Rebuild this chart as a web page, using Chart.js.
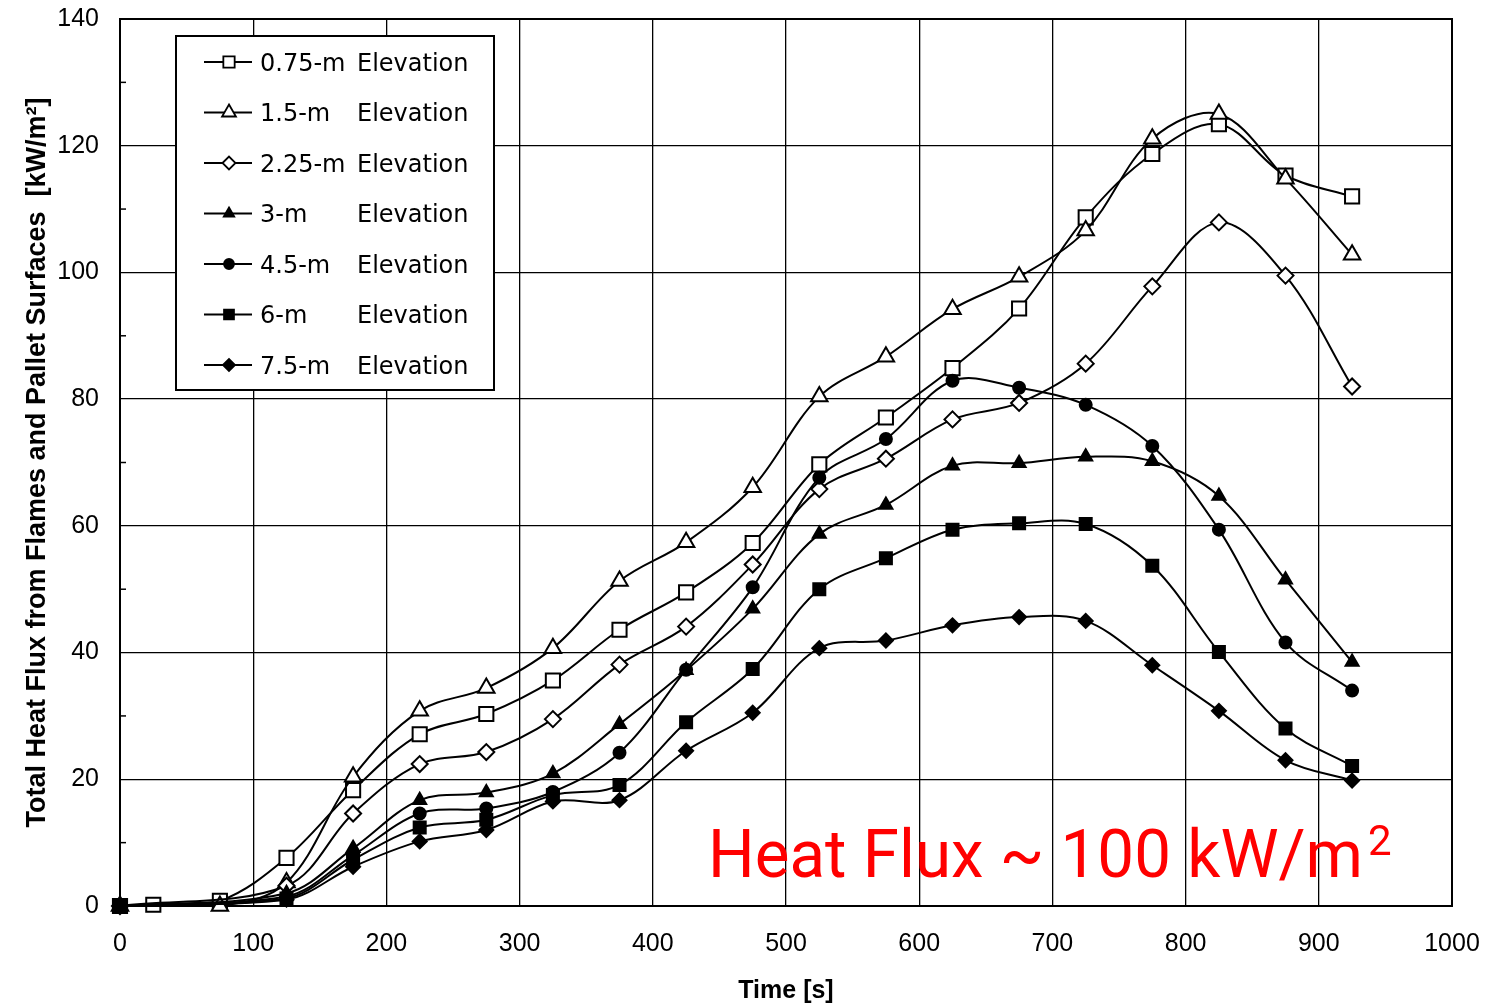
<!DOCTYPE html>
<html>
<head>
<meta charset="utf-8">
<script src="https://cdn.jsdelivr.net/npm/chart.js@4.4.0/dist/chart.umd.min.js"></script>
<style>
html,body{margin:0;padding:0;background:#fff;}
#wrap{width:1506px;height:1008px;position:relative;}
</style>
</head>
<body>
<div id="wrap"><canvas id="c"></canvas></div>
<script>
// ---- data ----
const times = [0, 25, 75, 125, 175, 225, 275, 325, 375, 425, 475, 525, 575, 625, 675, 725, 775, 825, 875, 925];
const elevations = ["0.75-m", "1.5-m", "2.25-m", "3-m", "4.5-m", "6-m", "7.5-m"];
const s075 = [0, 0.2, 0.8, 7.6, 18.3, 27.1, 30.3, 35.6, 43.6, 49.5, 57.3, 69.7, 77.1, 84.9, 94.3, 108.7, 118.7, 123.4, 115.3, 112.0];
const s15  = [0, null, 0, 3.7, 20.4, 30.8, 34.4, 40.7, 51.3, 57.4, 66.1, 80.4, 86.7, 94.2, 99.3, 106.6, 121.1, 125.0, 114.8, 102.8];
const s225 = [0, null, null, 3.2, 14.6, 22.4, 24.3, 29.5, 38.1, 44.1, 53.9, 65.8, 70.6, 76.8, 79.4, 85.6, 97.8, 107.9, 99.5, 82.0];
const s3   = [0, null, null, 2.0, 9.1, 16.7, 17.9, 20.9, 28.7, 37.2, 46.9, 58.7, 63.3, 69.5, 69.9, 70.9, 70.2, 64.7, 51.5, 38.5];
const s45  = [0, null, null, 1.5, 8.0, 14.6, 15.4, 18.0, 24.2, 37.3, 50.3, 67.6, 73.7, 82.9, 81.8, 79.1, 72.6, 59.4, 41.6, 34.0];
const s6   = [0, null, null, 1.2, 7.3, 12.4, 13.6, 17.5, 19.1, 29.0, 37.4, 50.0, 54.9, 59.4, 60.4, 60.3, 53.7, 40.1, 28.0, 22.1];
const s75  = [0, null, null, 1.0, 6.2, 10.2, 12.0, 16.5, 16.7, 24.5, 30.5, 40.7, 41.9, 44.3, 45.6, 45.0, 38.0, 30.8, 23.0, 19.8];
const seriesValues = [s075, s15, s225, s3, s45, s6, s75];
const xTickLabels = ["0", "100", "200", "300", "400", "500", "600", "700", "800", "900", "1000"];
const yTickLabels = ["0", "20", "40", "60", "80", "100", "120", "140"];
const xTitle = "Time [s]";
const yTitle = "Total Heat Flux from Flames and Pallet Surfaces  [kW/m\u00B2]";
const noteText = "Heat Flux ~ 100 kW/m";
const noteSup = "2";

// ---- styles ----
const pointStyles = ['rect', 'triangle', 'rectRot', 'triangle', 'circle', 'rect', 'rectRot'];
const pointFills  = ['#ffffff', '#ffffff', '#ffffff', '#000000', '#000000', '#000000', '#000000'];
const pointRadii  = [10, 9.5, 8, 7.5, 6, 8.5, 7];
const legendRadii = [8, 8, 6.5, 6, 5, 7, 6];

const datasets = seriesValues.map((vals, i) => ({
  label: elevations[i] + " Elevation",
  data: times.map((t, k) => ({x: t, y: vals[k]})),
  borderColor: '#000',
  borderWidth: 2,
  backgroundColor: pointFills[i],
  pointStyle: pointStyles[i],
  pointRadius: pointRadii[i],
  pointBackgroundColor: pointFills[i],
  pointBorderColor: '#000',
  pointBorderWidth: 2,
  tension: 0.35,
  spanGaps: true,
  fill: false,
  clip: false,
  order: seriesValues.length - 1 - i
}));

function drawMarker(ctx, style, r, x, y, fillColor) {
  ctx.beginPath();
  if (style === 'rect') {
    const s = Math.SQRT1_2 * r;
    ctx.rect(x - s, y - s, 2 * s, 2 * s);
  } else if (style === 'rectRot') {
    ctx.moveTo(x - r, y); ctx.lineTo(x, y - r); ctx.lineTo(x + r, y); ctx.lineTo(x, y + r); ctx.closePath();
  } else if (style === 'triangle') {
    let a = 0;
    ctx.moveTo(x + Math.sin(a) * r, y - Math.cos(a) * r);
    a += 2 * Math.PI / 3;
    ctx.lineTo(x + Math.sin(a) * r, y - Math.cos(a) * r);
    a += 2 * Math.PI / 3;
    ctx.lineTo(x + Math.sin(a) * r, y - Math.cos(a) * r);
    ctx.closePath();
  } else {
    ctx.arc(x, y, r, 0, Math.PI * 2);
  }
  ctx.fillStyle = fillColor;
  ctx.fill();
  ctx.strokeStyle = '#000';
  ctx.lineWidth = 1.8;
  ctx.stroke();
}

const decor = {
  id: 'decor',
  beforeDatasetsDraw(chart) {
    const {ctx, chartArea: a} = chart;
    ctx.save();
    ctx.strokeStyle = '#000';
    ctx.lineWidth = 2;
    ctx.strokeRect(a.left, a.top, a.right - a.left, a.bottom - a.top);
    const ys = chart.scales.y;
    ctx.lineWidth = 1.5;
    for (let v = 10; v < 140; v += 20) {
      const py = ys.getPixelForValue(v);
      ctx.beginPath(); ctx.moveTo(a.left, py); ctx.lineTo(a.left + 6, py); ctx.stroke();
    }
    ctx.restore();
  },
  afterDraw(chart) {
    const ctx = chart.ctx;
    ctx.save();
    // legend box
    const bx = 176, by = 36, bw = 318, bh = 354;
    ctx.fillStyle = '#fff';
    ctx.fillRect(bx, by, bw, bh);
    ctx.strokeStyle = '#000';
    ctx.lineWidth = 2;
    ctx.strokeRect(bx, by, bw, bh);
    ctx.font = '24px "DejaVu Sans"';
    ctx.textBaseline = 'alphabetic';
    chart.data.datasets.forEach((ds, i) => {
      const cy = 62 + i * 50.5;
      ctx.strokeStyle = '#000';
      ctx.lineWidth = 2;
      ctx.beginPath(); ctx.moveTo(204, cy); ctx.lineTo(252, cy); ctx.stroke();
      drawMarker(ctx, pointStyles[i], legendRadii[i], 229, cy, pointFills[i]);
      const parts = ds.label.split(' ');
      ctx.fillStyle = '#000';
      ctx.textAlign = 'left';
      ctx.fillText(parts[0], 260, cy + 8.5);
      ctx.fillText(parts.slice(1).join(' '), 357, cy + 8.5);
    });
    // red annotation
    ctx.fillStyle = '#ff0000';
    ctx.font = '66px Roboto';
    const w = ctx.measureText(noteText).width;
    const target = 655;
    ctx.translate(708, 877);
    ctx.scale(target / w, 1);
    ctx.fillText(noteText, 0, 0);
    ctx.restore();
    ctx.save();
    ctx.fillStyle = '#ff0000';
    ctx.font = '42px Roboto';
    ctx.textBaseline = 'alphabetic';
    ctx.fillText(noteSup, 1368, 855);
    ctx.restore();
  }
};

new Chart(document.getElementById('c'), {
  type: 'line',
  data: {datasets},
  options: {
    responsive: true,
    maintainAspectRatio: false,
    animation: false,
    layout: {padding: {left: 0, right: 54, top: 19, bottom: 0}},
    plugins: {legend: {display: false}, tooltip: {enabled: false}},
    elements: {line: {cubicInterpolationMode: 'default'}},
    scales: {
      x: {
        type: 'linear', min: 0, max: 1000,
        ticks: {stepSize: 100, color: '#000', padding: 23, font: {family: '"Liberation Sans", Arial', size: 25},
                callback: (v, idx) => xTickLabels[idx]},
        grid: {color: '#000', lineWidth: 1.3, drawTicks: false},
        border: {color: '#000', width: 2},
        title: {display: true, text: xTitle, color: '#000', font: {family: '"Liberation Sans", Arial', size: 25, weight: 'bold'}, padding: {top: 0, bottom: 2}},
        afterFit(scale) { scale.height = 102; }
      },
      y: {
        type: 'linear', min: 0, max: 140,
        ticks: {stepSize: 20, color: '#000', padding: 21, font: {family: '"Liberation Sans", Arial', size: 25},
                callback: (v, idx) => yTickLabels[idx]},
        grid: {color: '#000', lineWidth: 1.3, drawTicks: false},
        border: {color: '#000', width: 2},
        title: {display: true, text: yTitle, color: '#000', font: {family: '"Liberation Sans", Arial', size: 27, weight: 'bold'}, padding: {top: 21, bottom: 0}},
        afterFit(scale) { scale.width = 120; scale.paddingTop = 0; scale.paddingBottom = 0; }
      }
    }
  },
  plugins: [decor]
});
</script>
</body>
</html>
